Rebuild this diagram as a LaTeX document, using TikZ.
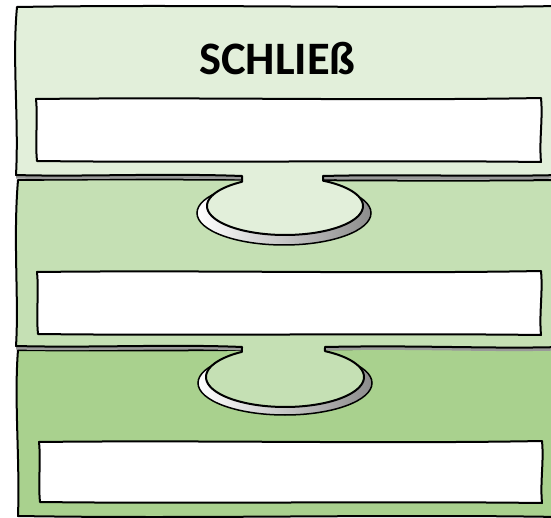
\documentclass[tikz,border=0pt]{standalone}
\usepackage{fontspec}
\setmainfont{Carlito}
\definecolor{cTop}{HTML}{E2EFDA}
\definecolor{cMid}{HTML}{C5E0B4}
\definecolor{cBot}{HTML}{A9D18E}
\tikzset{
  panel/.style={draw=black, line width=2pt, line join=round},
  shadowband/.style={fill=black!40},
  tabshadow/.style={left color=white, right color=black!45, draw=black, line width=1.5pt},
  textbox/.style={fill=white, draw=black, line width=2pt, line join=round},
  titletext/.style={font=\bfseries\fontsize{46.5}{46.5}\selectfont, inner sep=0pt}
}
\begin{document}
\begin{tikzpicture}[x=1pt, y=-1pt]
\useasboundingbox (0,0) rectangle (551,518);
\clip (0,0) rectangle (551,518);
\fill[white] (0,0) rectangle (551,518);

% bottom panel
\draw[panel, fill=cBot] (18,350) .. controls (14,400) and (20,460) .. (18,516)
  .. controls (200,519) and (380,514) .. (560,517) -- (560,349)
  .. controls (380,347) and (200,352) .. cycle;

% shadow of middle panel
\fill[shadowband, yshift=-3.5pt] (18,180) .. controls (13,240) and (19,300) .. (16,346)
  .. controls (90,348) and (170,344) .. (242,347)
  -- plot[domain=123:419.6, samples=80] ({285+79*cos(\x)},{377-30*sin(\x)})
  -- (325,347) .. controls (420,345) and (490,349) .. (560,347) -- (560,180)
  .. controls (380,182) and (200,178) .. cycle;
\draw[tabshadow] (285,383) ellipse[x radius=87, y radius=32];

% middle panel
\draw[panel, fill=cMid] (18,180) .. controls (13,240) and (19,300) .. (16,346)
  .. controls (90,348) and (170,344) .. (242,347)
  -- plot[domain=123:419.6, samples=80] ({285+79*cos(\x)},{377-30*sin(\x)})
  -- (325,347) .. controls (420,345) and (490,349) .. (560,347) -- (560,180)
  .. controls (380,182) and (200,178) .. cycle;

% shadow of top panel
\fill[shadowband, yshift=-3.5pt] (17,7) .. controls (12,60) and (19,120) .. (16,175)
  .. controls (80,177) and (160,173) .. (242,176)
  -- plot[domain=123.45:420.84, samples=80] ({285+78*cos(\x)},{206-29*sin(\x)})
  -- (323,176) .. controls (400,174) and (480,177) .. (560,175) -- (560,6)
  .. controls (380,9) and (200,4) .. cycle;
\draw[tabshadow] (284,213) ellipse[x radius=87, y radius=32];

% top panel
\draw[panel, fill=cTop] (17,7) .. controls (12,60) and (19,120) .. (16,175)
  .. controls (80,177) and (160,173) .. (242,176)
  -- plot[domain=123.45:420.84, samples=80] ({285+78*cos(\x)},{206-29*sin(\x)})
  -- (323,176) .. controls (400,174) and (480,177) .. (560,175) -- (560,6)
  .. controls (380,9) and (200,4) .. cycle;

% text boxes
\draw[textbox] (36,99) .. controls (200,97) and (380,101) .. (541,98)
  .. controls (543,120) and (539,140) .. (541,162)
  .. controls (380,160) and (200,163) .. (37,161)
  .. controls (35,140) and (38,120) .. cycle;
\draw[textbox] (37,272) .. controls (200,270) and (380,274) .. (541,271)
  .. controls (543,293) and (539,313) .. (541,335)
  .. controls (380,333) and (200,336) .. (38,334)
  .. controls (36,313) and (39,293) .. cycle;
\draw[textbox] (39,442) .. controls (200,440) and (380,444) .. (542,441)
  .. controls (544,462) and (540,482) .. (542,503)
  .. controls (380,501) and (200,504) .. (40,502)
  .. controls (38,482) and (41,462) .. cycle;

% title
\node[titletext, anchor=base] (title) at (277.5,75) {SCHLIEß};
\end{tikzpicture}
\end{document}
